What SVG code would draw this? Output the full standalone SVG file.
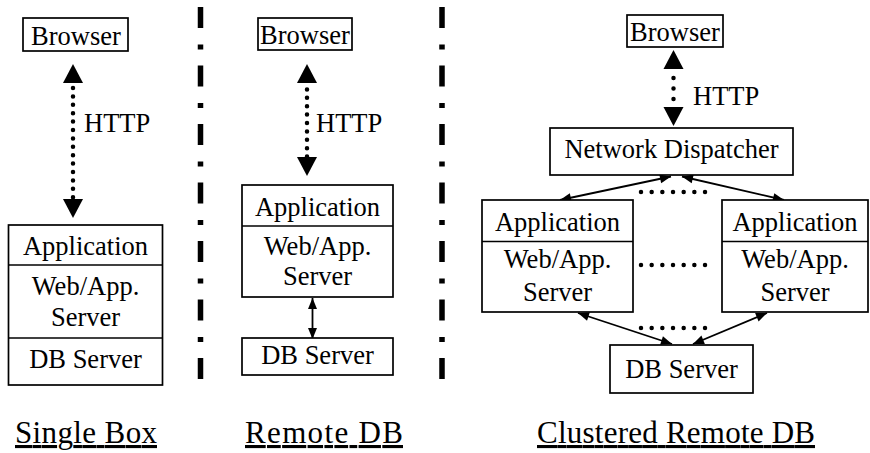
<svg xmlns="http://www.w3.org/2000/svg" width="870" height="453" viewBox="0 0 870 453">
<style>
.box{fill:#fff;stroke:#000;stroke-width:1.7}
.div{stroke:#000;stroke-width:1.7}
.t{font-family:"Liberation Serif","Times New Roman",serif;font-size:26.5px;fill:#000;text-anchor:middle}
.ts{font-family:"Liberation Serif","Times New Roman",serif;font-size:26.5px;fill:#000;text-anchor:start}
.lbl{font-family:"Liberation Serif","Times New Roman",serif;font-size:31px;fill:#000;text-decoration:underline}
.sep{stroke:#000;stroke-width:5.5;stroke-dasharray:21 16.5 5 16;fill:none}
.http{stroke:#000;stroke-width:4.5;stroke-linecap:round;fill:none;marker-start:url(#big);marker-end:url(#big)}
.thin{stroke:#000;stroke-width:1.8;fill:none;marker-start:url(#small);marker-end:url(#small)}
.dots{stroke:#000;stroke-width:4.5;stroke-linecap:round;stroke-dasharray:0 10.67;fill:none}
</style>
<defs>
<marker id="big" markerUnits="userSpaceOnUse" markerWidth="20" markerHeight="22" viewBox="0 -11 20 22" refX="0" refY="0" orient="auto-start-reverse" overflow="visible"><path d="M0,-10 L19,0 L0,10 z" fill="#000"/></marker>
<marker id="small" markerUnits="userSpaceOnUse" markerWidth="12" markerHeight="10" viewBox="0 -5 12 10" refX="11" refY="0" orient="auto-start-reverse" overflow="visible"><path d="M0,-4.5 L11,0 L0,4.5 z" fill="#000"/></marker>
</defs>
<rect width="870" height="453" fill="#fff"/>

<g id="separators">
<line class="sep" x1="200.5" y1="7" x2="200.5" y2="380"/>
<line class="sep" x1="442" y1="7" x2="442" y2="380"/>
</g>

<g id="connectors">
<path class="http" d="M73,83 L73,199" stroke-dasharray="0 8.4" stroke-dashoffset="3.4"/>
<path class="http" d="M307,83 L307,157" stroke-dasharray="0 8.4" stroke-dashoffset="2"/>
<path class="http" d="M673.5,69 L673.5,107" stroke-dasharray="0 10.5" stroke-dashoffset="1.5"/>
<path class="thin" d="M312.5,298 L312.5,339"/>
<path class="thin" d="M671,176.5 L560,200"/>
<path class="thin" d="M682,176.5 L784,200"/>
<path class="thin" d="M578,313 L672,344"/>
<path class="thin" d="M767,313 L693,344"/>
<path class="dots" d="M641,192 L706,192"/>
<path class="dots" d="M641,265 L706,265"/>
<path class="dots" d="M641,328 L706,328"/>
</g>
<g id="http-labels">
<text class="ts" x="84" y="132">HTTP</text>
<text class="ts" x="316" y="132">HTTP</text>
<text class="ts" x="693" y="105">HTTP</text>
</g>

<g id="single-browser">
<rect class="box" x="23" y="18" width="105" height="33"/>
<text class="t" x="76" y="44.5">Browser</text>
</g>
<g id="single-stack">
<rect class="box" x="8.5" y="225" width="154" height="160"/>
<line class="div" x1="8.5" y1="265" x2="162.5" y2="265"/>
<line class="div" x1="8.5" y1="338" x2="162.5" y2="338"/>
<text class="t" x="85.5" y="254.5">Application</text>
<text class="t" x="85.5" y="294.5">Web/App.</text>
<text class="t" x="85.5" y="326">Server</text>
<text class="t" x="85.5" y="368">DB Server</text>
</g>

<g id="remote-browser">
<rect class="box" x="258" y="18" width="94" height="32"/>
<text class="t" x="305" y="44">Browser</text>
</g>
<g id="remote-app">
<rect class="box" x="242" y="185" width="151" height="112"/>
<line class="div" x1="242" y1="226" x2="393" y2="226"/>
<text class="t" x="317.5" y="215.5">Application</text>
<text class="t" x="317.5" y="254.5">Web/App.</text>
<text class="t" x="317.5" y="285">Server</text>
</g>
<g id="remote-db">
<rect class="box" x="242" y="338" width="151" height="37"/>
<text class="t" x="317.5" y="363.5">DB Server</text>
</g>

<g id="cluster-browser">
<rect class="box" x="627" y="15" width="96" height="32"/>
<text class="t" x="675" y="41">Browser</text>
</g>
<g id="cluster-dispatcher">
<rect class="box" x="550" y="128" width="243" height="47"/>
<text class="t" x="671.5" y="158">Network Dispatcher</text>
</g>
<g id="cluster-app-left">
<rect class="box" x="482" y="200" width="151" height="112"/>
<line class="div" x1="482" y1="241.5" x2="633" y2="241.5"/>
<text class="t" x="557.5" y="231">Application</text>
<text class="t" x="557.5" y="268">Web/App.</text>
<text class="t" x="557.5" y="300.5">Server</text>
</g>
<g id="cluster-app-right">
<rect class="box" x="722" y="200" width="146" height="112"/>
<line class="div" x1="722" y1="241.5" x2="868" y2="241.5"/>
<text class="t" x="795" y="231">Application</text>
<text class="t" x="795" y="268">Web/App.</text>
<text class="t" x="795" y="300.5">Server</text>
</g>
<g id="cluster-db">
<rect class="box" x="610" y="345" width="143" height="48"/>
<text class="t" x="681.5" y="378">DB Server</text>
</g>

<g id="captions">
<text class="lbl" x="15" y="443" textLength="142">Single Box</text>
<text class="lbl" x="245" y="443" textLength="158">Remote DB</text>
<text class="lbl" x="537" y="443" textLength="278">Clustered Remote DB</text>
</g>
</svg>
